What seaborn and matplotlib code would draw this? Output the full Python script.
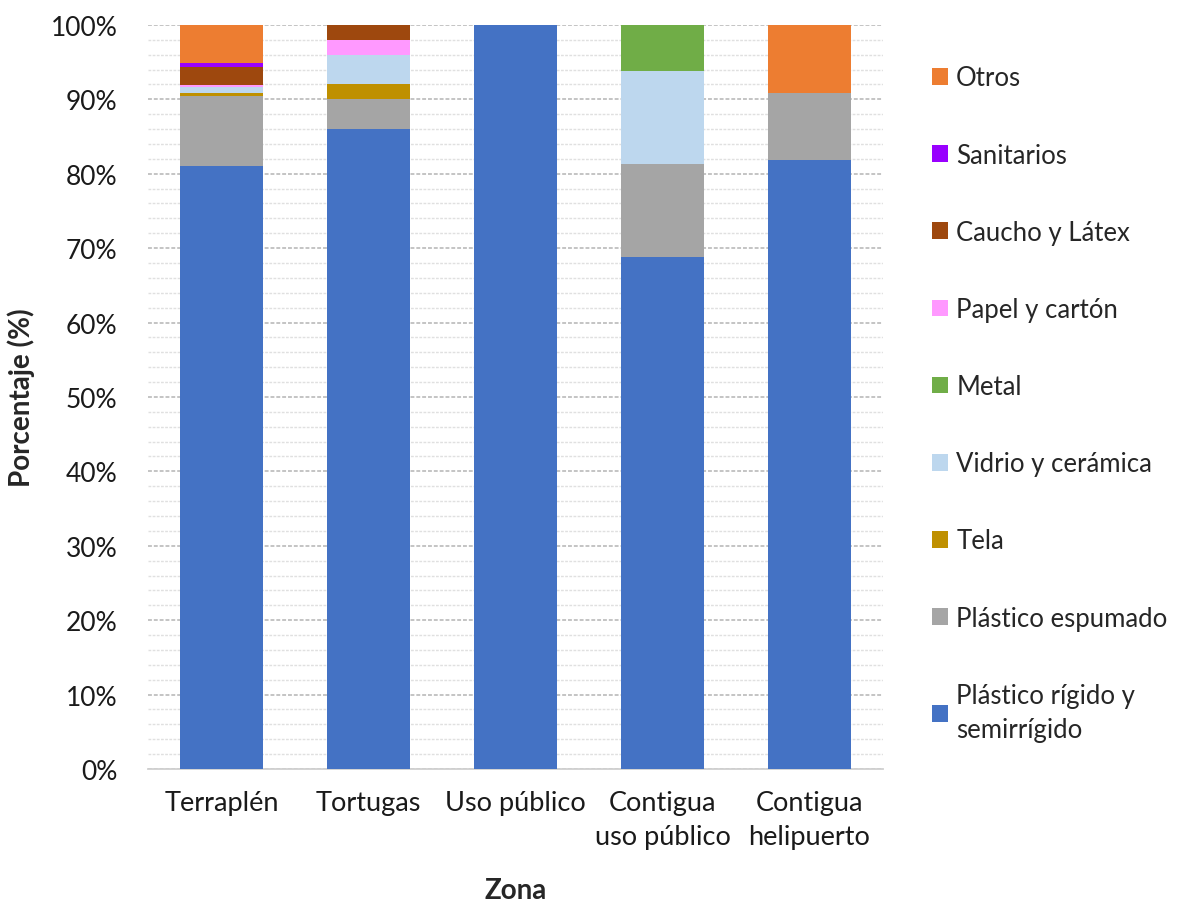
import numpy as np
import pandas as pd
import matplotlib
matplotlib.use("Agg")
import matplotlib.pyplot as plt
import seaborn as sns
from matplotlib.patches import Patch
from matplotlib.ticker import MultipleLocator, PercentFormatter

zonas = ["Terraplén", "Tortugas", "Uso público", "Contigua\nuso público", "Contigua\nhelipuerto"]

plastico_rigido = [81.0, 86.0, 100.0, 68.75, 81.82]
plastico_espumado = [9.4, 4.0, 0.0, 12.5, 9.09]
tela = [0.4, 2.0, 0.0, 0.0, 0.0]
vidrio = [0.8, 4.0, 0.0, 12.5, 0.0]
metal = [0.0, 0.0, 0.0, 6.25, 0.0]
papel = [0.3, 2.0, 0.0, 0.0, 0.0]
caucho = [2.5, 2.0, 0.0, 0.0, 0.0]
sanitarios = [0.45, 0.0, 0.0, 0.0, 0.0]
otros = [5.15, 0.0, 0.0, 0.0, 9.09]

categorias = ["Plástico rígido y\nsemirrígido", "Plástico espumado", "Tela",
              "Vidrio y cerámica", "Metal", "Papel y cartón", "Caucho y Látex",
              "Sanitarios", "Otros"]
series = [plastico_rigido, plastico_espumado, tela, vidrio, metal, papel,
          caucho, sanitarios, otros]
colores = ["#4472C4", "#A5A5A5", "#BF9000", "#BDD7EE", "#70AD47", "#FF99FF",
           "#9E480E", "#9900FF", "#ED7D31"]

sns.set_theme(style="white")
plt.rcParams["font.family"] = ["Lato", "DejaVu Sans"]

fig = plt.figure(figsize=(11.81, 9.03), dpi=100)
ax = fig.add_axes([0.1253, 0.1473, 0.6224, 0.824])

# stacked bars: each material sits on top of the running total
base = np.zeros(len(zonas))
for cat, vals, col in zip(categorias, series, colores):
    df = pd.DataFrame({"zona": zonas, "pct": vals})
    sns.barplot(data=df, x="zona", y="pct", bottom=base, color=col,
                width=0.57, saturation=1, linewidth=0, ax=ax, zorder=3)
    base = base + np.array(vals)

ax.set_ylim(0, 100)
ax.set_xlim(-0.5, len(zonas) - 0.5)
ax.yaxis.set_major_locator(MultipleLocator(10))
ax.yaxis.set_minor_locator(MultipleLocator(2))
ax.yaxis.set_major_formatter(PercentFormatter(decimals=0))
ax.grid(axis="y", which="major", color="#c4c4c4", linestyle=(0, (2, 1)), linewidth=1.4, zorder=0)
ax.grid(axis="y", which="minor", color="#e0e0e0", linestyle=(0, (2, 1)), linewidth=1.0, zorder=0)
ax.set_axisbelow(True)
for s in ["top", "right", "left"]:
    ax.spines[s].set_visible(False)
ax.spines["bottom"].set_color("#d0d0d0")
ax.spines["bottom"].set_linewidth(1.3)
ax.tick_params(axis="both", which="both", length=0, colors="#1a1a1a")
ax.tick_params(axis="x", pad=15, labelsize=19.5)
ax.tick_params(axis="y", pad=22, labelsize=19)
for t in ax.get_xticklabels():
    t.set_linespacing(1.45)

ax.set_xlabel("Zona", fontsize=20, fontweight="bold", labelpad=20)
ax.set_ylabel("Porcentaje (%)", fontsize=20, fontweight="bold", labelpad=11)

handles = [Patch(facecolor=c, edgecolor="none") for c in colores]
leg = fig.legend(handles[::-1], categorias[::-1], loc="upper left",
                 bbox_to_anchor=(0.77, 0.952), frameon=False, fontsize=18.5,
                 handlelength=0.62, handleheight=0.62, handletextpad=0.3,
                 labelspacing=2.03)
for t in leg.get_texts():
    t.set_linespacing(1.45)

fig.savefig("out.png", dpi=100)
